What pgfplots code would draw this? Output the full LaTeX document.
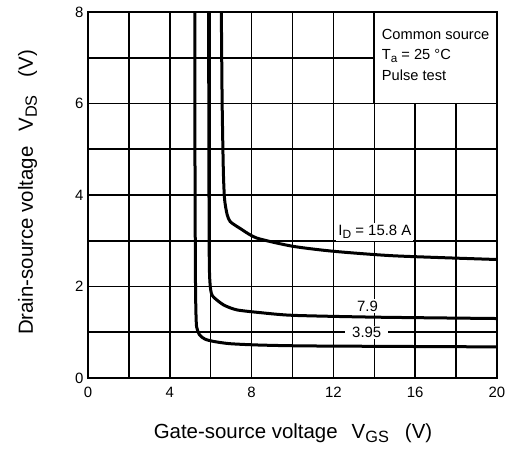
\documentclass[border=0pt]{standalone}
\usepackage{fontspec}
\setmainfont{Liberation Sans}
\usepackage{pgfplots}
\pgfplotsset{compat=1.18}

% subscript as in the datasheet: a bit smaller, set low
\makeatletter
\newcommand{\sub}[1]{\raisebox{-0.35ex}{\fontsize{\dimexpr 0.8\dimexpr\f@size pt\relax\relax}{1em}\selectfont #1}}
\makeatother

\begin{document}
\begin{tikzpicture}
\begin{axis}[
    at={(0,0)}, anchor=south west,
    scale only axis,
    width=409bp, height=366bp,
    xmin=0, xmax=20, ymin=0, ymax=8,
    xtick={0,4,...,20}, minor xtick={2,6,...,18},
    ytick={0,2,...,8}, minor ytick={1,3,5,7},
    grid=both,
    major grid style={black, line width=1.6bp},
    minor grid style={black, line width=1.6bp},
    axis line style={black, line width=2.8bp},
    tick style={black, line width=1.6bp},
    major tick length=5bp, minor tick length=0bp,
    tick align=inside,
    /pgf/number format/assume math mode=true,
    tick label style={font=\fontsize{15}{17}\selectfont},
    xticklabel style={anchor=north, yshift=-6bp},
    yticklabel style={anchor=east, xshift=-1bp},
    clip=false,
]
% I_D = 3.95 A
\addplot[black, line width=3bp, smooth, tension=0.4] coordinates {
  (5.22,8) (5.23,5) (5.25,2.5) (5.27,1.6) (5.31,1.12) (5.46,0.94)
  (5.72,0.85) (6.13,0.80) (6.94,0.75) (8.4,0.72) (11,0.70) (20,0.68)};
% I_D = 7.9 A
\addplot[black, line width=3bp, smooth, tension=0.4] coordinates {
  (5.90,8) (5.91,5) (5.93,2.6) (5.97,2.05) (6.08,1.80) (6.62,1.60)
  (7.27,1.49) (8.4,1.43) (10,1.37) (14,1.33) (20,1.30)};
% I_D = 15.8 A
\addplot[black, line width=3bp, smooth, tension=0.4] coordinates {
  (6.52,8) (6.56,6) (6.62,4.5) (6.68,3.9) (6.80,3.58) (6.95,3.42)
  (7.4,3.28) (8.25,3.06) (10,2.88) (12,2.77) (15,2.67) (20,2.59)};

\node[fill=white, inner sep=2bp, font=\fontsize{15}{17}\selectfont]
  at (axis cs:14.03,3.19) {I\sub{D} = 15.8 A};
\node[fill=white, inner sep=1.5bp, font=\fontsize{15}{17}\selectfont]
  at (axis cs:13.67,1.57) {7.9};
\node[fill=white, inner xsep=7bp, inner ysep=1bp, font=\fontsize{15}{17}\selectfont]
  at (axis cs:13.63,1.0) {3.95};

\draw[fill=white, line width=1.8bp] (axis cs:14,6) rectangle (axis cs:20,8);
\end{axis}

\begin{scope}[font=\fontsize{14.7}{18}\selectfont]
\node[anchor=base west, inner sep=0] at (293.7bp,338bp) {Common source};
\node[anchor=base west, inner sep=0] at (293.7bp,318bp) {T\sub{a} = 25 °C};
\node[anchor=base west, inner sep=0] at (293.7bp,297bp) {Pulse test};
\end{scope}

\node[anchor=base, inner sep=0, font=\fontsize{20.5}{22}\selectfont]
  at (205bp,-60.3bp) {Gate-source voltage\hspace{14bp}V\sub{GS}\hspace{16bp}(V)};
\node[anchor=base, inner sep=0, rotate=90, font=\fontsize{20.5}{22}\selectfont]
  at (-55bp,185.5bp) {Drain-source voltage\hspace{15bp}V\sub{DS}\hspace{18bp}(V)};

\pgfresetboundingbox
\path[use as bounding box] (-88bp,-72bp) rectangle (422bp,378bp);
\end{tikzpicture}
\end{document}
